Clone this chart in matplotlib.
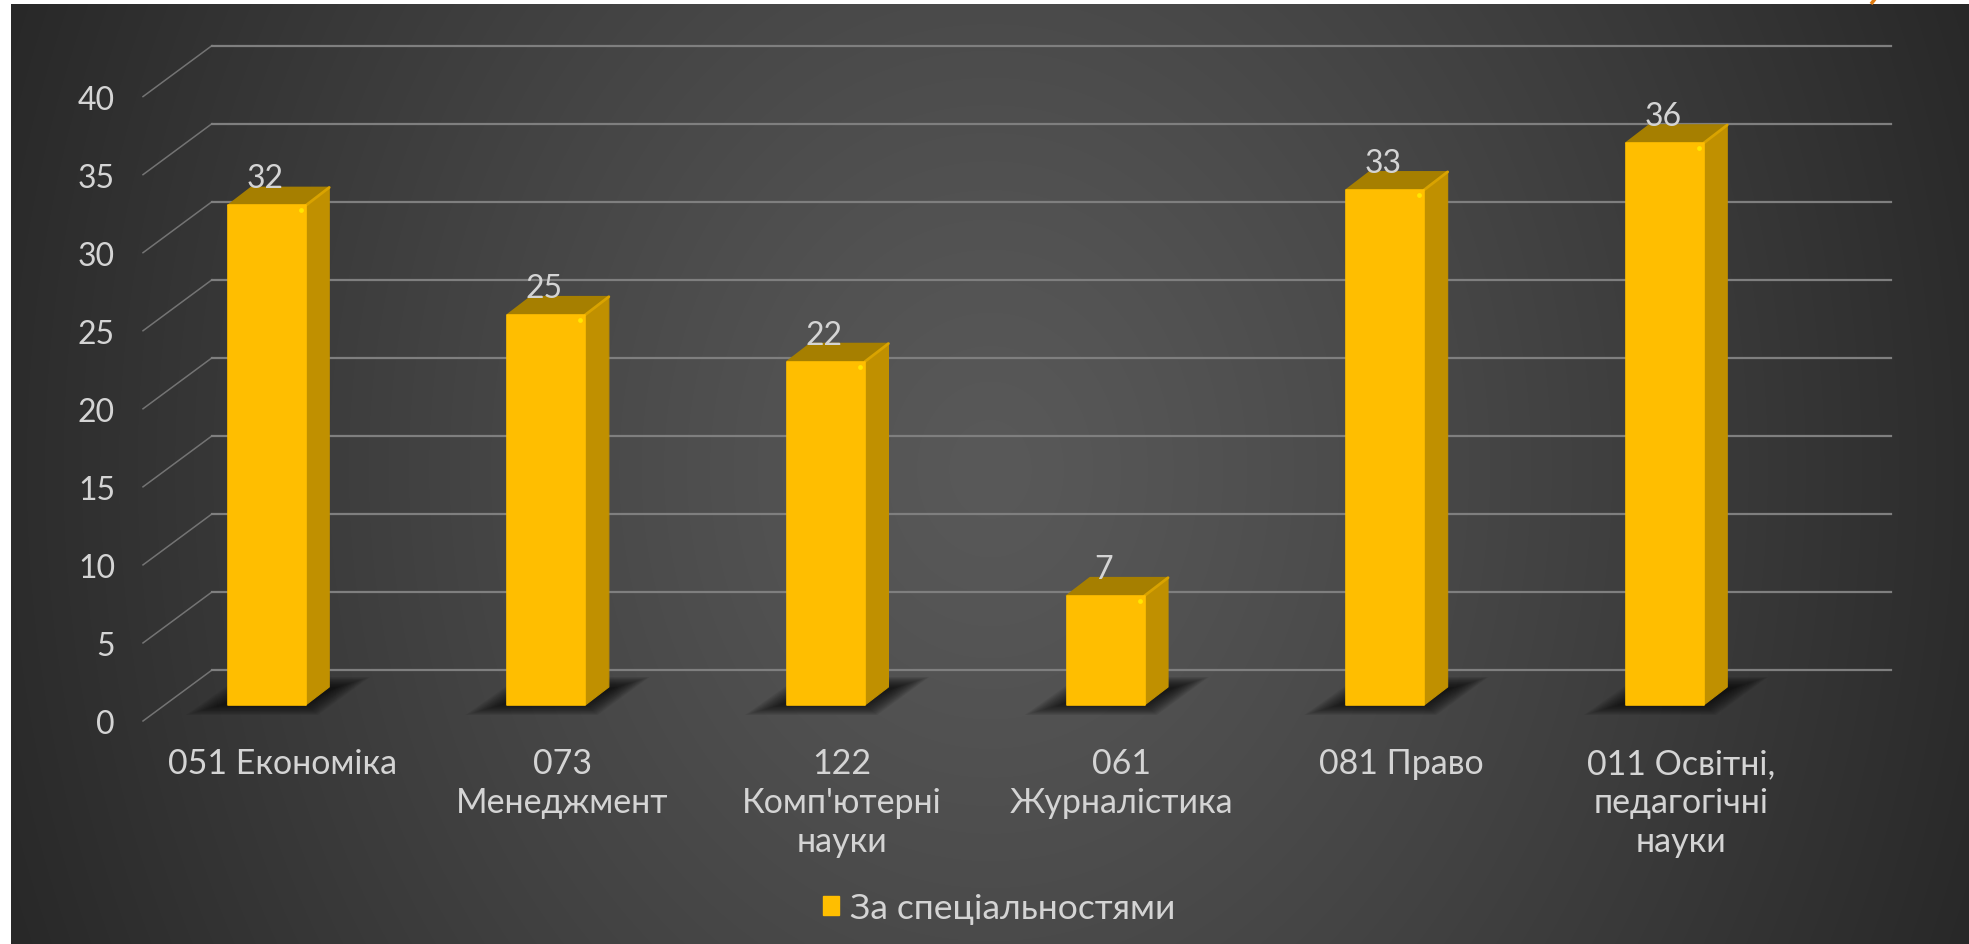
"""
plot.py

Purpose:
Redraw the specialities bar chart with a fake 3D look.
"""

import matplotlib
matplotlib.use("Agg")
import matplotlib.pyplot as plt
import numpy as np
from matplotlib.patches import Patch, Polygon

categories = [
    "051 Економіка",
    "073\nМенеджмент",
    "122\nКомп'ютерні\nнауки",
    "061\nЖурналістика",
    "081 Право",
    "011 Освітні,\nпедагогічні\nнауки",
]
values = [32, 25, 22, 7, 33, 36]
y_ticks = [0, 5, 10, 15, 20, 25, 30, 35, 40]
legend_label = "За спеціальностями"

WIDTH = 1969
HEIGHT = 945
PX_X = 279.6    # pixels per category
PX_Y = 15.61    # pixels per value unit
X0 = 266.75     # pixel of first bar centre
Y0 = 706        # pixel of value 0 on the bars' front plane

TEXT = "#D4D4D4"
GRID = "#7F7F7F"

plt.rcParams["font.family"] = ["Lato", "Noto Sans", "DejaVu Sans"]


def to_x(px):
    return (px - X0) / PX_X


def to_dy(px):
    # pixels upward, as value units
    return px / PX_Y


fig = plt.figure(figsize=(WIDTH / 100, HEIGHT / 100), dpi=100, facecolor="white")

# -----------------------
# Background
# -----------------------
bg = fig.add_axes([0, 0, 1, 1], zorder=0)
xx, yy = np.meshgrid(np.arange(WIDTH), np.arange(HEIGHT))
r = np.sqrt(((xx - 990) / 1000) ** 2 + ((yy - 470) / 1200) ** 2)
shade = (0x59 - 0x2E * r ** 1.2) / 255
shade = np.dstack([shade, shade, shade])
bg.imshow(shade, extent=(0, WIDTH, HEIGHT, 0), aspect="auto")
bg.add_patch(plt.Rectangle((0, 0), 11, HEIGHT, color="white", lw=0))
bg.add_patch(plt.Rectangle((0, 0), WIDTH, 5, color="white", lw=0))
bg.plot([1875, 1871], [0, 5], color="#E07B10", lw=2.5, solid_capstyle="butt")
bg.set_xlim(0, WIDTH)
bg.set_ylim(HEIGHT, 0)
bg.axis("off")

# -----------------------
# Chart axes (whole figure, bars' front plane)
# -----------------------
ax = fig.add_axes([0, 0, 1, 1], zorder=1)
ax.patch.set_alpha(0)
ax.set_xlim(to_x(0), to_x(WIDTH))
ax.set_ylim(to_dy(Y0 - HEIGHT), to_dy(Y0))
ax.axis("off")

# -----------------------
# Grid: floor diagonal plus back wall line
# -----------------------
grid_left = to_x(143)
grid_back = to_x(212)
grid_right = to_x(1891)
front_drop = to_dy(Y0 - 722)
back_rise = to_dy(Y0 - 671)

for v in y_ticks:
    ax.plot([grid_left, grid_back], [v + front_drop, v + back_rise],
            color=GRID, lw=1.1, zorder=2, alpha=0.85)
    ax.plot([grid_back, grid_right], [v + back_rise, v + back_rise],
            color=GRID, lw=1.6, zorder=2)
    ax.text(to_x(115), v + front_drop, str(v), ha="right", va="center_baseline",
            color=TEXT, fontsize=23)

# -----------------------
# Bars
# -----------------------
bar_w = 78 / PX_X
depth_x = 23.5 / PX_X
depth_y = to_dy(18)

for i, v in enumerate(values):
    left = i - bar_w / 2
    right = i + bar_w / 2

    # soft floor shadow, stacked see-through layers
    sx = np.array([186, 318, 370, 240]) - X0
    sy = np.array([716, 716, 678, 678])
    for k in range(16):
        f = 1 - k * 0.028
        g = 1 - k * 0.04
        xs = i + (sx - 20) * f / PX_X + 20 / PX_X
        ys = to_dy(Y0 - (696 + (sy - 696) * g))
        ax.add_patch(Polygon(np.column_stack([xs, ys]), closed=True,
                             facecolor="#0A0A0A", edgecolor="none",
                             alpha=0.08, zorder=3))

    # side face
    ax.add_patch(Polygon([(right, 0), (right + depth_x, depth_y),
                          (right + depth_x, v + depth_y), (right, v)],
                         closed=True, facecolor="#C09000", edgecolor="#C09000",
                         lw=0.8, joinstyle="round", zorder=4))
    # top face
    ax.add_patch(Polygon([(left, v), (right, v),
                          (right + depth_x, v + depth_y), (left + depth_x, v + depth_y)],
                         closed=True, facecolor="#A67F00", edgecolor="#A67F00",
                         lw=1.2, joinstyle="round", zorder=5))
    ax.plot([right, right + depth_x], [v, v + depth_y], color="#D9A300",
            lw=2, solid_capstyle="round", zorder=6)
    # front face
    ax.add_patch(Polygon([(left, 0), (right, 0), (right, v), (left, v)],
                         closed=True, facecolor="#FFBE00", edgecolor="#FFBE00",
                         lw=1.2, joinstyle="round", zorder=7))
    ax.scatter([i + 34 / PX_X], [v - to_dy(5)], s=12, color="#FFE600",
               linewidths=0, zorder=8)

    # value label, sits on the top back edge
    ax.text(i - 2 / PX_X, v + depth_y, str(v), ha="center", va="baseline",
            color=TEXT, fontsize=23, zorder=9)

    # category label
    ax.text(i + 16 / PX_X, to_dy(Y0 - 748), categories[i], ha="center", va="top",
            color=TEXT, fontsize=24.5, linespacing=1.27, zorder=9)

# -----------------------
# Legend
# -----------------------
handle = Patch(facecolor="#FFBE00", edgecolor="#FFBE00")
leg = fig.legend(
    [handle], [legend_label],
    loc="center",
    bbox_to_anchor=(999 / WIDTH, 1 - 909 / HEIGHT),
    frameon=False,
    fontsize=25.5,
    labelcolor=TEXT,
    handlelength=0.45,
    handleheight=0.45,
    handletextpad=0.3,
)

plt.savefig("out.png", dpi=100)
plt.close()
